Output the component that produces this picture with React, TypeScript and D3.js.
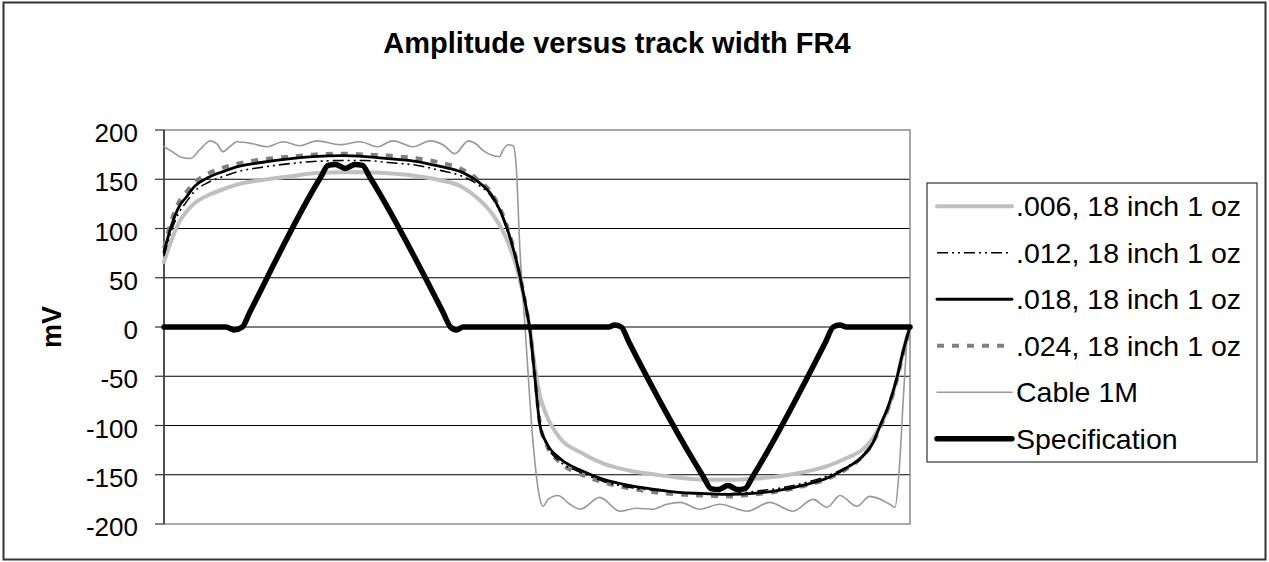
import React from 'react';
import * as d3 from 'd3';

const W = 1269;
const H = 562;

const titleText = 'Amplitude versus track width FR4';
const yAxisTitle = 'mV';
const yTicks = [200, 150, 100, 50, 0, -50, -100, -150, -200];
const seriesNames = [
  '.006, 18 inch 1 oz',
  '.012, 18 inch 1 oz',
  '.018, 18 inch 1 oz',
  '.024, 18 inch 1 oz',
  'Cable 1M',
  'Specification',
];

// time axis (arbitrary units 0..100, no labels shown)
const tTrack = [
  0, 1, 2, 3, 4, 6, 8, 10, 13, 17, 20, 24, 27, 30, 34, 37, 40, 42, 44, 46, 47.5, 48.5, 49,
  49.7, 50.4, 51.3, 53, 56, 59, 62.5, 66, 69, 72, 76, 79, 83, 86, 89, 91.5, 93.7, 95, 96, 97.2, 98.3, 99.1, 100,
];
const v006 = [
  66, 88, 106, 117, 125, 134, 140, 145, 149, 153, 156, 157, 157, 156, 153, 149, 142, 131, 115, 88, 54, 20, 0,
  -40, -70, -90, -112, -128, -139, -146, -150, -153, -155, -155, -154, -151, -147, -141, -133, -124, -113, -100, -80, -50, -24, 0,
];
const v012 = [
  72, 98, 116, 127, 137, 147, 153, 158, 162, 166, 168, 169, 169, 167, 164, 159, 153, 145, 131, 98, 58, 21, 0,
  -52, -100, -120, -136, -148, -157, -163, -166, -168, -169, -169, -167, -163, -158, -151, -142, -130, -117, -100, -78, -50, -24, 0,
];
const v018 = [
  76, 103, 122, 132, 142, 152, 158, 163, 167, 171, 173, 174, 173, 171, 168, 163, 157, 148, 133, 100, 59, 21, 0,
  -50, -100, -118, -133, -146, -155, -161, -165, -168, -169, -170, -169, -165, -160, -153, -143, -131, -118, -100, -78, -50, -24, 0,
];
const v024 = [
  80, 108, 127, 137, 146, 156, 162, 166, 170, 173, 175, 176, 175, 174, 171, 167, 160, 150, 135, 102, 60, 22, 0,
  -48, -98, -120, -137, -150, -158, -164, -168, -170, -171, -172, -170, -166, -161, -154, -144, -131, -118, -102, -80, -52, -26, 0,
];

const tCable = [
  0, 1.1, 2.4, 3.5, 4.8, 6.2, 7.1, 7.9, 8.8, 9.8, 11.9, 13.8, 16, 18.2, 20.5, 23.6, 26.3, 28.6, 30.7, 33.4, 35.7,
  37.4, 39, 40.8, 41.8, 42.8, 45, 45.4, 46.1, 46.8, 47.2, 47.7, 48.4, 49.5, 50.4, 50.8, 51.5, 52.8, 54.4, 55.8,
  58.4, 61.1, 63.3, 65.5, 67.4, 69.2, 71.8, 74.5, 78.2, 81.2, 84.3, 87, 88.9, 90.6, 92.9, 94.6, 97.3, 98, 98.5, 99.2, 99.7,
];
const vCable = [
  183, 178, 172, 171, 180, 189, 186, 178, 183, 188, 186, 183, 188, 184, 189, 185, 188, 183, 189, 183, 189,
  185, 176, 189, 186, 179, 173, 179, 185, 184, 165, 80, 0, -120, -175, -182, -175, -171, -180, -185,
  -173, -187, -184, -185, -180, -178, -185, -180, -187, -178, -187, -175, -183, -171, -182, -172, -180, -183, -150, -60, 0,
];

const tSpec = [
  0, 8.3, 9.4, 10.5, 11.5, 21.0, 22.0, 23.0, 24.3, 25.6, 26.6, 27.6, 37.4, 38.4, 39.2, 40.1,
  59.6, 60.4, 61.3, 62.3, 72.3, 73.3, 74.3, 75.6, 76.9, 77.9, 78.9, 88.7, 89.7, 90.6, 91.5, 100,
];
const vSpec = [
  0, 0, -3, 0, 15, 152, 164, 165, 161, 165, 164, 152, 15, 0, -3, 0,
  0, 2, 0, -15, -152, -164, -165, -161, -165, -164, -152, -15, 0, 2, 0, 0,
];

const seriesData = [
  { t: tTrack, v: v006 },
  { t: tTrack, v: v012 },
  { t: tTrack, v: v018 },
  { t: tTrack, v: v024 },
  { t: tCable, v: vCable },
  { t: tSpec, v: vSpec },
];

const seriesStyles = [
  { stroke: '#c0c0c0', width: 4, dash: null as string | null },
  { stroke: '#000000', width: 1.6, dash: '11 4 2 4 2 4' },
  { stroke: '#000000', width: 2.8, dash: null },
  { stroke: '#808080', width: 4, dash: '7 8' },
  { stroke: '#999999', width: 1.6, dash: null },
  { stroke: '#000000', width: 5.5, dash: null },
];

const FONT = '"Liberation Sans", Arial, Helvetica, sans-serif';

export default function App() {
  const plot = { left: 164, right: 910, top: 130, bottom: 524 };
  const x = d3.scaleLinear().domain([0, 100]).range([plot.left, plot.right]);
  const y = d3.scaleLinear().domain([-200, 200]).range([plot.bottom, plot.top]);

  const legend = { x0: 927, x1: 1257, y0: 183, y1: 462 };
  const rowH = (legend.y1 - legend.y0) / seriesNames.length;

  const paths = seriesData.map((s) => {
    const pts: [number, number][] = s.t.map((t, k) => [t, s.v[k]]);
    const gen = d3
      .line<[number, number]>()
      .x((d) => x(d[0]))
      .y((d) => y(d[1]))
      .curve(d3.curveMonotoneX);
    return gen(pts) || '';
  });

  const drawOrder = [4, 0, 3, 2, 1, 5];

  return (
    <div style={{ position: 'absolute', left: 0, top: 0 }}>
      <svg width={W} height={H} style={{ display: 'block', background: '#fff' }} fontFamily={FONT}>
        <rect x={0} y={0} width={W} height={H} fill="#ffffff" />
        <rect x={3.5} y={2.5} width={1262} height={557} fill="none" stroke="#333" strokeWidth={2} />

        <text x={617} y={53} textAnchor="middle" fontSize={29} fontWeight="bold" fill="#000">
          {titleText}
        </text>

        {yTicks
          .filter((v) => v !== 200 && v !== -200)
          .map((v) => (
            <line key={'g' + v} x1={plot.left} x2={plot.right} y1={y(v)} y2={y(v)} stroke="#000" strokeWidth={1} />
          ))}

        <rect
          x={plot.left}
          y={plot.top}
          width={plot.right - plot.left}
          height={plot.bottom - plot.top}
          fill="none"
          stroke="#8c8c8c"
          strokeWidth={1.5}
        />
        <line x1={plot.left} x2={plot.left} y1={plot.top} y2={plot.bottom} stroke="#333" strokeWidth={1.5} />
        {yTicks.map((v) => (
          <g key={'t' + v}>
            <line x1={plot.left - 9} x2={plot.left} y1={y(v)} y2={y(v)} stroke="#333" strokeWidth={1.2} />
            <text x={138} y={y(v) + 12} textAnchor="end" fontSize={26} fill="#000">
              {v}
            </text>
          </g>
        ))}
        <text
          transform={`translate(${61},${(plot.top + plot.bottom) / 2}) rotate(-90)`}
          textAnchor="middle"
          fontSize={27}
          fontWeight="bold"
          fill="#000"
        >
          {yAxisTitle}
        </text>

        <g>
          {drawOrder.map((i) => (
            <path
              key={'s' + i}
              d={paths[i]}
              fill="none"
              stroke={seriesStyles[i].stroke}
              strokeWidth={seriesStyles[i].width}
              strokeDasharray={seriesStyles[i].dash || undefined}
              strokeLinejoin="round"
              strokeLinecap={seriesStyles[i].dash ? 'butt' : 'round'}
            />
          ))}
        </g>

        <rect
          x={legend.x0}
          y={legend.y0}
          width={legend.x1 - legend.x0}
          height={legend.y1 - legend.y0}
          fill="#fff"
          stroke="#333"
          strokeWidth={1.2}
        />
        {seriesNames.map((name, i) => {
          const cy = legend.y0 + rowH * (i + 0.5);
          const st = seriesStyles[i];
          return (
            <g key={'l' + i}>
              <line
                x1={937}
                x2={1012}
                y1={cy}
                y2={cy}
                stroke={st.stroke}
                strokeWidth={st.width}
                strokeDasharray={st.dash || undefined}
                strokeLinecap={st.dash ? 'butt' : 'round'}
              />
              <text x={1016} y={cy + 10} fontSize={28.5} fill="#000">
                {name}
              </text>
            </g>
          );
        })}
      </svg>
    </div>
  );
}
